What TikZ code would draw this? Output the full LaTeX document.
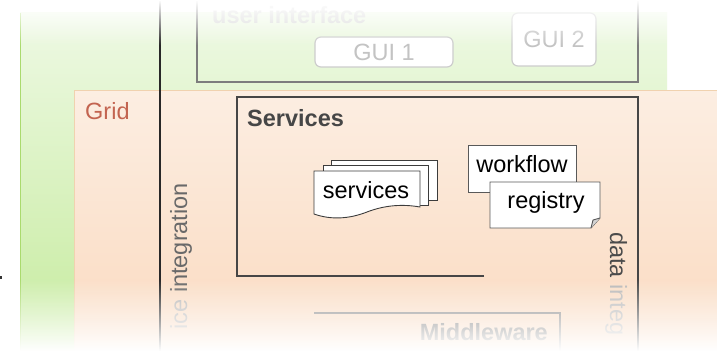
\documentclass[tikz,border=0pt]{standalone}
\usepackage{fontspec}
\setmainfont{Liberation Sans}
\definecolor{greenT}{RGB}{238,249,228}
\definecolor{greenM}{RGB}{208,239,175}
\definecolor{greenB}{RGB}{198,235,158}
\definecolor{greenEdge}{RGB}{170,218,110}
\definecolor{peachT}{RGB}{252,238,226}
\definecolor{peachB}{RGB}{250,218,192}
\definecolor{peachEdge}{RGB}{240,210,175}
\definecolor{gridred}{RGB}{195,100,80}
\definecolor{uiline}{RGB}{125,125,125}
\definecolor{uitext}{RGB}{215,215,215}
\definecolor{svcline}{RGB}{70,70,70}
\definecolor{svctext}{RGB}{70,70,70}
\definecolor{mwline}{RGB}{140,140,140}
\definecolor{mwtext}{RGB}{120,120,120}
\definecolor{guiline}{RGB}{205,205,205}
\definecolor{guitext}{RGB}{195,195,195}
\definecolor{doclne}{RGB}{60,60,60}
\definecolor{vline}{RGB}{40,40,40}
\definecolor{inttext}{RGB}{105,105,105}
\definecolor{fainttext}{RGB}{185,185,185}
\definecolor{datatext}{RGB}{75,75,75}
\begin{document}
\begin{tikzpicture}[x=1pt,y=-1pt,
  txt/.style={inner sep=0pt, font=\fontsize{23.5}{28}\selectfont},
  btxt/.style={inner sep=0pt, font=\fontsize{23.5}{28}\selectfont\bfseries},
  guibox/.style={draw=guiline, fill=white, rounded corners=6pt, line width=1.2pt, inner sep=0pt, text=guitext, font=\fontsize{23.5}{28}\selectfont},
  doc/.style={draw=doclne, fill=white, line width=0.9pt},
  note/.style={draw=doclne!85, fill=white, line width=0.9pt}]
\useasboundingbox (0,0) rectangle (717,353);
\fill[white] (0,0) rectangle (717,353);
% green layer
\fill[top color=greenT, middle color=greenM, bottom color=greenB] (20,13) rectangle (667,350);
\draw[greenEdge, line width=1pt] (20.5,13) -- (20.5,350);
% grid layer
\fill[top color=peachT, bottom color=peachB] (74,90) rectangle (717,350);
\draw[peachEdge, line width=0.8pt] (74,350) -- (74,90) -- (717,90);
\node[txt, text=gridred, anchor=base west] (gridlbl) at (85,119) {Grid};
% service integration line
\draw[vline, line width=1.8pt] (160,0) -- (160,353);
\node[txt, text=inttext, rotate=90, anchor=base east] (intlbl) at (187,183) {{\color{fainttext}ice} integration};
% user interface
\draw[uiline, line width=2pt] (197,-5) rectangle (638,82);
\node[btxt, text=uitext, anchor=base west] (uilbl) at (212,24) {user interface};
\node[guibox, minimum width=138pt, minimum height=30pt] (gui1) at (384,52) {GUI 1};
\node[guibox, minimum width=84pt, minimum height=53pt] (gui2) at (554,39.5) {GUI 2};
% services box
\draw[svcline, line width=2.2pt] (484,276) -- (237,276) -- (237,97) -- (638,97) -- (638,353);
\node[btxt, text=svctext, anchor=base west] (svclbl) at (247,126) {Services};
\node[txt, text=datatext, rotate=-90, anchor=base west] (datalbl) at (610,232) {data {\color{fainttext}integ}};
% stacked services documents
\draw[doc] (331,160) rectangle (437,200);
\draw[doc] (323,165) rectangle (428,205);
\draw[doc] (314,171) -- (420,171) -- (420,207) .. controls (403,204) and (385,205) .. (367,212) .. controls (349,219) and (331,220) .. (314,214) -- cycle;
\node[txt, anchor=base] (svc) at (366,198) {services};
% workflow and registry
\draw[note] (468,145) rectangle (576,192);
\node[txt, anchor=base] (wft) at (522,172) {workflow};
\draw[note] (490,182) -- (600,182) -- (600,218) -- (591,228) -- (490,228) -- cycle;
\fill[gray!35] (591,228) -- (593,220) -- (600,218) -- cycle;
\draw[note, fill=none] (591,228) -- (593,220) -- (600,218);
\node[txt, anchor=base] (regt) at (546,208) {registry};
% middleware
\draw[mwline, line width=2pt] (314,313) -- (560,313) -- (560,353);
\node[btxt, text=mwtext, anchor=base east] (mwlbl) at (548,340) {Middleware};
% fades to white at top and bottom
\foreach \i [evaluate=\i as \op using {1-\i/45}] in {0,...,44}
  {\fill[white, fill opacity=\op] (0,\i) rectangle (717,\i+1);}
\foreach \i [evaluate=\i as \op using {min(1,(\i-279)/72)}] in {280,...,352}
  {\fill[white, fill opacity=\op] (0,\i) rectangle (717,\i+1);}
% small mark at left edge
\fill[black!80] (0,275.5) rectangle (2,279);
\end{tikzpicture}
\end{document}
